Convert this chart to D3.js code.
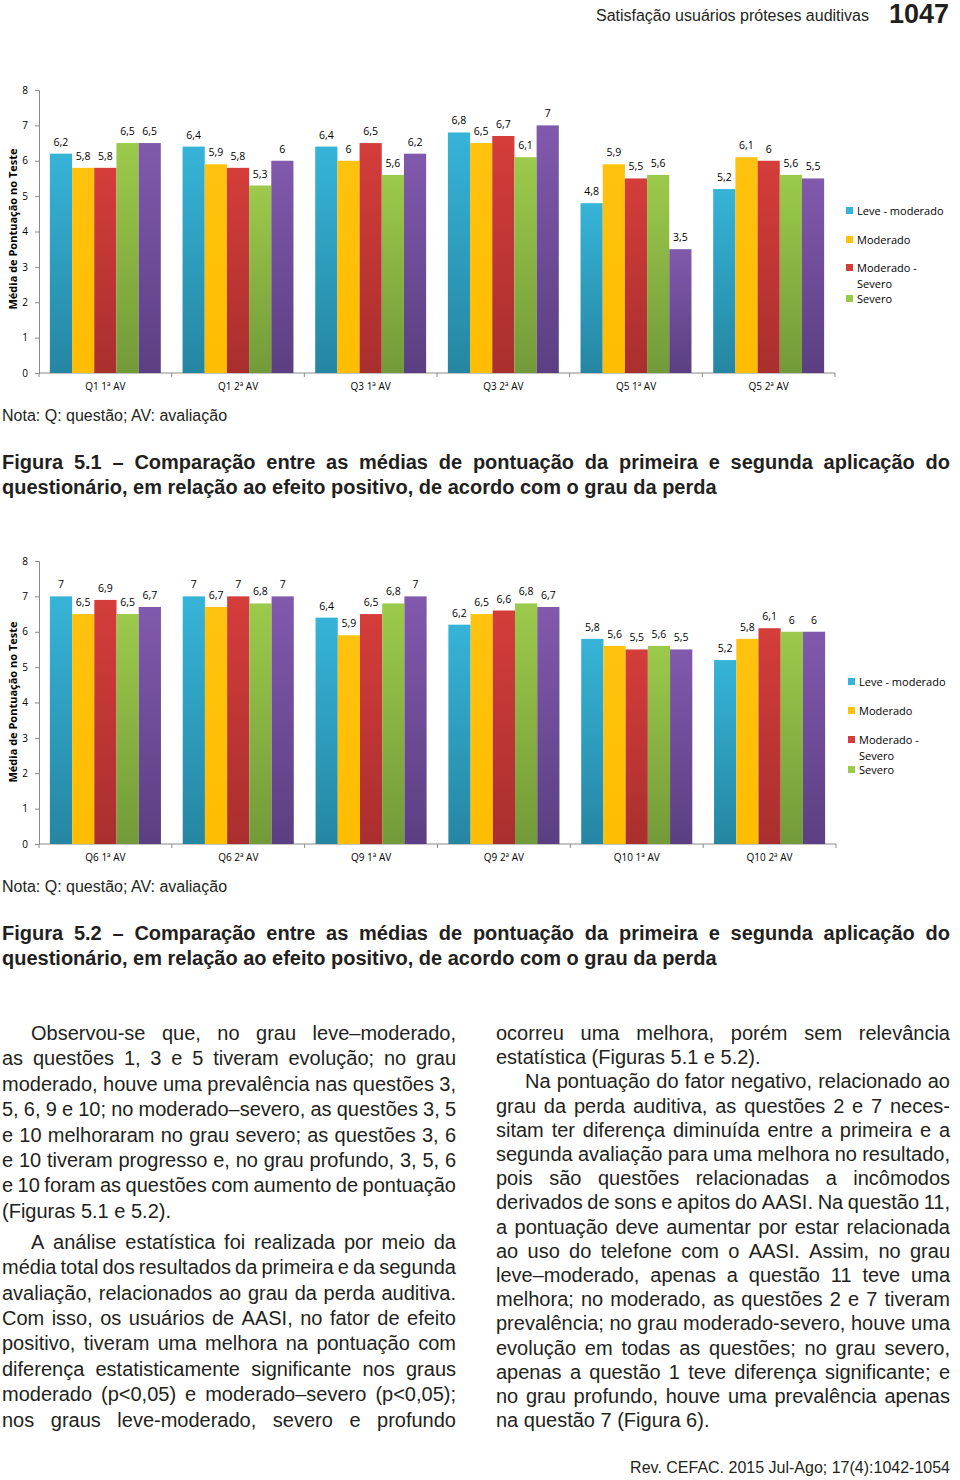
<!DOCTYPE html>
<html>
<head>
<meta charset="utf-8">
<script src="https://cdn.jsdelivr.net/npm/d3@7"></script>
<style>
  body { margin: 0; background: #fff; }
  svg { display: block; }
  .body-text { font-family: "Liberation Sans", Arial, sans-serif; font-size: 20px; fill: #231f20; }
  .plain { font-family: "Liberation Sans", Arial, sans-serif; fill: #231f20; }
  .chart text { font-family: "Open Sans", sans-serif; fill: #000; }
</style>
</head>
<body>
<script>
// ---- data ----
const seriesNames = ["Leve - moderado", "Moderado", "Moderado - Severo", "Severo", "Profundo"]
const legendNames = ["Leve - moderado", "Moderado", "Moderado -\nSevero", "Severo"] // purple item is cut off in the original

const categories1 = ["Q1 1ª AV", "Q1 2ª AV", "Q3 1ª AV", "Q3 2ª AV", "Q5 1ª AV", "Q5 2ª AV"]
const leve1 = [6.2, 6.4, 6.4, 6.8, 4.8, 5.2]
const moderado1 = [5.8, 5.9, 6, 6.5, 5.9, 6.1]
const modSevero1 = [5.8, 5.8, 6.5, 6.7, 5.5, 6]
const severo1 = [6.5, 5.3, 5.6, 6.1, 5.6, 5.6]
const profundo1 = [6.5, 6, 6.2, 7, 3.5, 5.5]

const categories2 = ["Q6 1ª AV", "Q6 2ª AV", "Q9 1ª AV", "Q9 2ª AV", "Q10 1ª AV", "Q10 2ª AV"]
const leve2 = [7, 7, 6.4, 6.2, 5.8, 5.2]
const moderado2 = [6.5, 6.7, 5.9, 6.5, 5.6, 5.8]
const modSevero2 = [6.9, 7, 6.5, 6.6, 5.5, 6.1]
const severo2 = [6.5, 6.8, 6.8, 6.8, 5.6, 6]
const profundo2 = [6.7, 7, 7, 6.7, 5.5, 6]

const yTicks = [0, 1, 2, 3, 4, 5, 6, 7, 8]

// bar colours: [top, bottom] of the vertical gradient
const colors = [
  ["#36b4d8", "#2586a2"],
  ["#ffc20e", "#ffbd00"],
  ["#d43d3a", "#a92f2e"],
  ["#9cca4b", "#739a39"],
  ["#8159ad", "#5b3f82"]
]

const width = 960, height = 1480

const svg = d3.select("body").append("svg")
  .attr("width", width)
  .attr("height", height)

// gradients for the bars
const defs = svg.append("defs")
colors.forEach((c, i) => {
  const grad = defs.append("linearGradient")
    .attr("id", "g" + i)
    .attr("x1", 0).attr("y1", 0).attr("x2", 0).attr("y2", 1)
  grad.append("stop").attr("offset", "0%").attr("stop-color", c[0])
  grad.append("stop").attr("offset", "100%").attr("stop-color", c[1])
})

const fmt = v => String(v).replace(".", ",")

// draws one grouped bar chart
function drawChart(cats, series, top, bottom, xRight, legendX, legendYs, titleY) {
  const g = svg.append("g").attr("class", "chart")
  const left = 39

  const x0 = d3.scaleBand().domain(cats).range([left, xRight]).paddingInner(0).paddingOuter(0)
  const x1 = d3.scaleBand().domain(d3.range(series.length)).range([0, x0.bandwidth()]).paddingInner(0).paddingOuter(0.49)
  const y = d3.scaleLinear().domain([0, 8]).range([bottom, top])

  // y axis
  const yAxis = g.append("g")
    .attr("transform", `translate(${left},0)`)
    .call(d3.axisLeft(y).tickValues(yTicks).tickSize(4).tickPadding(7))
  yAxis.select(".domain").attr("stroke", "#8a8a8a")
  yAxis.selectAll(".tick line").attr("stroke", "#8a8a8a")
  yAxis.selectAll(".tick text").style("font-size", "10px").style("font-family", "Open Sans, sans-serif")

  // x axis: ticks at band boundaries
  g.append("line")
    .attr("x1", left).attr("x2", xRight)
    .attr("y1", bottom).attr("y2", bottom)
    .attr("stroke", "#8a8a8a")
  const bounds = cats.map(c => x0(c)).concat([xRight])
  g.selectAll(".xt").data(bounds).enter().append("line")
    .attr("x1", d => d).attr("x2", d => d)
    .attr("y1", bottom).attr("y2", bottom + 4)
    .attr("stroke", "#8a8a8a")
  g.selectAll(".xl").data(cats).enter().append("text")
    .attr("x", d => x0(d) + x0.bandwidth() / 2)
    .attr("y", bottom + 17)
    .attr("text-anchor", "middle")
    .style("font-size", "10px")
    .text(d => d)

  // bars
  const groups = g.selectAll(".grp").data(cats).enter().append("g")
    .attr("transform", d => `translate(${x0(d)},0)`)
  groups.each(function(c, ci) {
    const grp = d3.select(this)
    series.forEach((s, si) => {
      grp.append("rect")
        .attr("x", x1(si))
        .attr("y", y(s[ci]))
        .attr("width", x1.bandwidth())
        .attr("height", y(0) - y(s[ci]))
        .attr("fill", `url(#g${si})`)
      grp.append("text")
        .attr("x", x1(si) + x1.bandwidth() / 2)
        .attr("y", y(s[ci]) - 8)
        .attr("text-anchor", "middle")
        .style("font-size", "10.5px")
        .text(fmt(s[ci]))
    })
  })

  // y title
  g.append("text")
    .attr("transform", `translate(17,${titleY}) rotate(-90)`)
    .attr("text-anchor", "middle")
    .style("font-size", "11px")
    .style("font-weight", "bold")
    .text("Média de Pontuação no Teste")

  // legend
  legendNames.forEach((name, i) => {
    const ly = legendYs[i]
    g.append("rect")
      .attr("x", legendX).attr("y", ly - 4)
      .attr("width", 7).attr("height", 7)
      .attr("fill", colors[i][0])
    const lines = name.split("\n")
    lines.forEach((ln, j) => {
      g.append("text")
        .attr("x", legendX + 11)
        .attr("y", ly + 4 + j * 16)
        .style("font-size", "11px")
        .text(ln)
    })
  })
}

drawChart(categories1, [leve1, moderado1, modSevero1, severo1, profundo1],
  90, 373, 835, 846, [211, 240, 268, 299], 229)
drawChart(categories2, [leve2, moderado2, modSevero2, severo2, profundo2],
  561, 844, 836, 848, [682, 711, 740, 770], 702)

// header
svg.append("text")
  .attr("class", "plain")
  .attr("x", 869).attr("y", 21)
  .attr("text-anchor", "end")
  .style("font-size", "16px")
  .text("Satisfação usuários próteses auditivas")
svg.append("text")
  .attr("class", "plain")
  .attr("x", 949).attr("y", 23)
  .attr("text-anchor", "end")
  .style("font-size", "27px")
  .style("font-weight", "bold")
  .text("1047")

// justified line helper
function textLine(g, str, x, y, w, justify) {
  if (!justify) {
    g.append("text").attr("x", x).attr("y", y).text(str)
    return
  }
  const words = str.split(" ")
  const nodes = words.map(wd => g.append("text").attr("y", y).text(wd))
  const widths = nodes.map(n => n.node().getComputedTextLength())
  const gap = (w - d3.sum(widths)) / (words.length - 1)
  let cx = x
  nodes.forEach((n, i) => { n.attr("x", cx); cx += widths[i] + gap })
}

// notes and captions
const cap = svg.append("g").attr("class", "plain")
function caption(num, yNote, yCap) {
  cap.append("text").attr("x", 2).attr("y", yNote).style("font-size", "16px")
    .text("Nota: Q: questão; AV: avaliação")
  const cg = cap.append("g").style("font-size", "20px").style("font-weight", "bold")
  textLine(cg, `Figura ${num} – Comparação entre as médias de pontuação da primeira e segunda aplicação do`, 2, yCap, 948, true)
  textLine(cg, "questionário, em relação ao efeito positivo, de acordo com o grau da perda", 2, yCap + 25, 0, false)
}
caption("5.1", 421, 469)
caption("5.2", 892, 940)

// body text
const leftCol = [
  ["Observou-se que, no grau leve–moderado,", 1, 1],
  ["as questões 1, 3 e 5 tiveram evolução; no grau", 0, 1],
  ["moderado, houve uma prevalência nas questões 3,", 0, 1],
  ["5, 6, 9 e 10; no moderado–severo, as questões 3, 5", 0, 1],
  ["e 10 melhoraram no grau severo; as questões 3, 6", 0, 1],
  ["e 10 tiveram progresso e, no grau profundo, 3, 5, 6", 0, 1],
  ["e 10 foram as questões com aumento de pontuação", 0, 1],
  ["(Figuras 5.1 e 5.2).", 0, 0],
  ["A análise estatística foi realizada por meio da", 1, 1],
  ["média total dos resultados da primeira e da segunda", 0, 1],
  ["avaliação, relacionados ao grau da perda auditiva.", 0, 1],
  ["Com isso, os usuários de AASI, no fator de efeito", 0, 1],
  ["positivo, tiveram uma melhora na pontuação com", 0, 1],
  ["diferença estatisticamente significante nos graus", 0, 1],
  ["moderado (p<0,05) e moderado–severo (p<0,05);", 0, 1],
  ["nos graus leve-moderado, severo e profundo", 0, 1]
]
const rightCol = [
  ["ocorreu uma melhora, porém sem relevância", 0, 1],
  ["estatística (Figuras 5.1 e 5.2).", 0, 0],
  ["Na pontuação do fator negativo, relacionado ao", 1, 1],
  ["grau da perda auditiva, as questões 2 e 7 neces-", 0, 1],
  ["sitam ter diferença diminuída entre a primeira e a", 0, 1],
  ["segunda avaliação para uma melhora no resultado,", 0, 1],
  ["pois são questões relacionadas a incômodos", 0, 1],
  ["derivados de sons e apitos do AASI. Na questão 11,", 0, 1],
  ["a pontuação deve aumentar por estar relacionada", 0, 1],
  ["ao uso do telefone com o AASI. Assim, no grau", 0, 1],
  ["leve–moderado, apenas a questão 11 teve uma", 0, 1],
  ["melhora; no moderado, as questões 2 e 7 tiveram", 0, 1],
  ["prevalência; no grau moderado-severo, houve uma", 0, 1],
  ["evolução em todas as questões; no grau severo,", 0, 1],
  ["apenas a questão 1 teve diferença significante; e", 0, 1],
  ["no grau profundo, houve uma prevalência apenas", 0, 1],
  ["na questão 7 (Figura 6).", 0, 0]
]

const bt = svg.append("g").attr("class", "body-text")
let ly = 1040
leftCol.forEach((l, i) => {
  if (i === 8) ly += 5.5
  const indent = l[1] ? 29 : 0
  textLine(bt, l[0], 2 + indent, ly, 454 - indent, l[2])
  ly += 25.4
})
rightCol.forEach((l, i) => {
  const indent = l[1] ? 29 : 0
  textLine(bt, l[0], 496 + indent, 1040 + i * 24.2, 454 - indent, l[2])
})

// footer
svg.append("text")
  .attr("class", "plain")
  .attr("x", 950).attr("y", 1473)
  .attr("text-anchor", "end")
  .style("font-size", "16px")
  .text("Rev. CEFAC. 2015 Jul-Ago; 17(4):1042-1054")
</script>
</body>
</html>
